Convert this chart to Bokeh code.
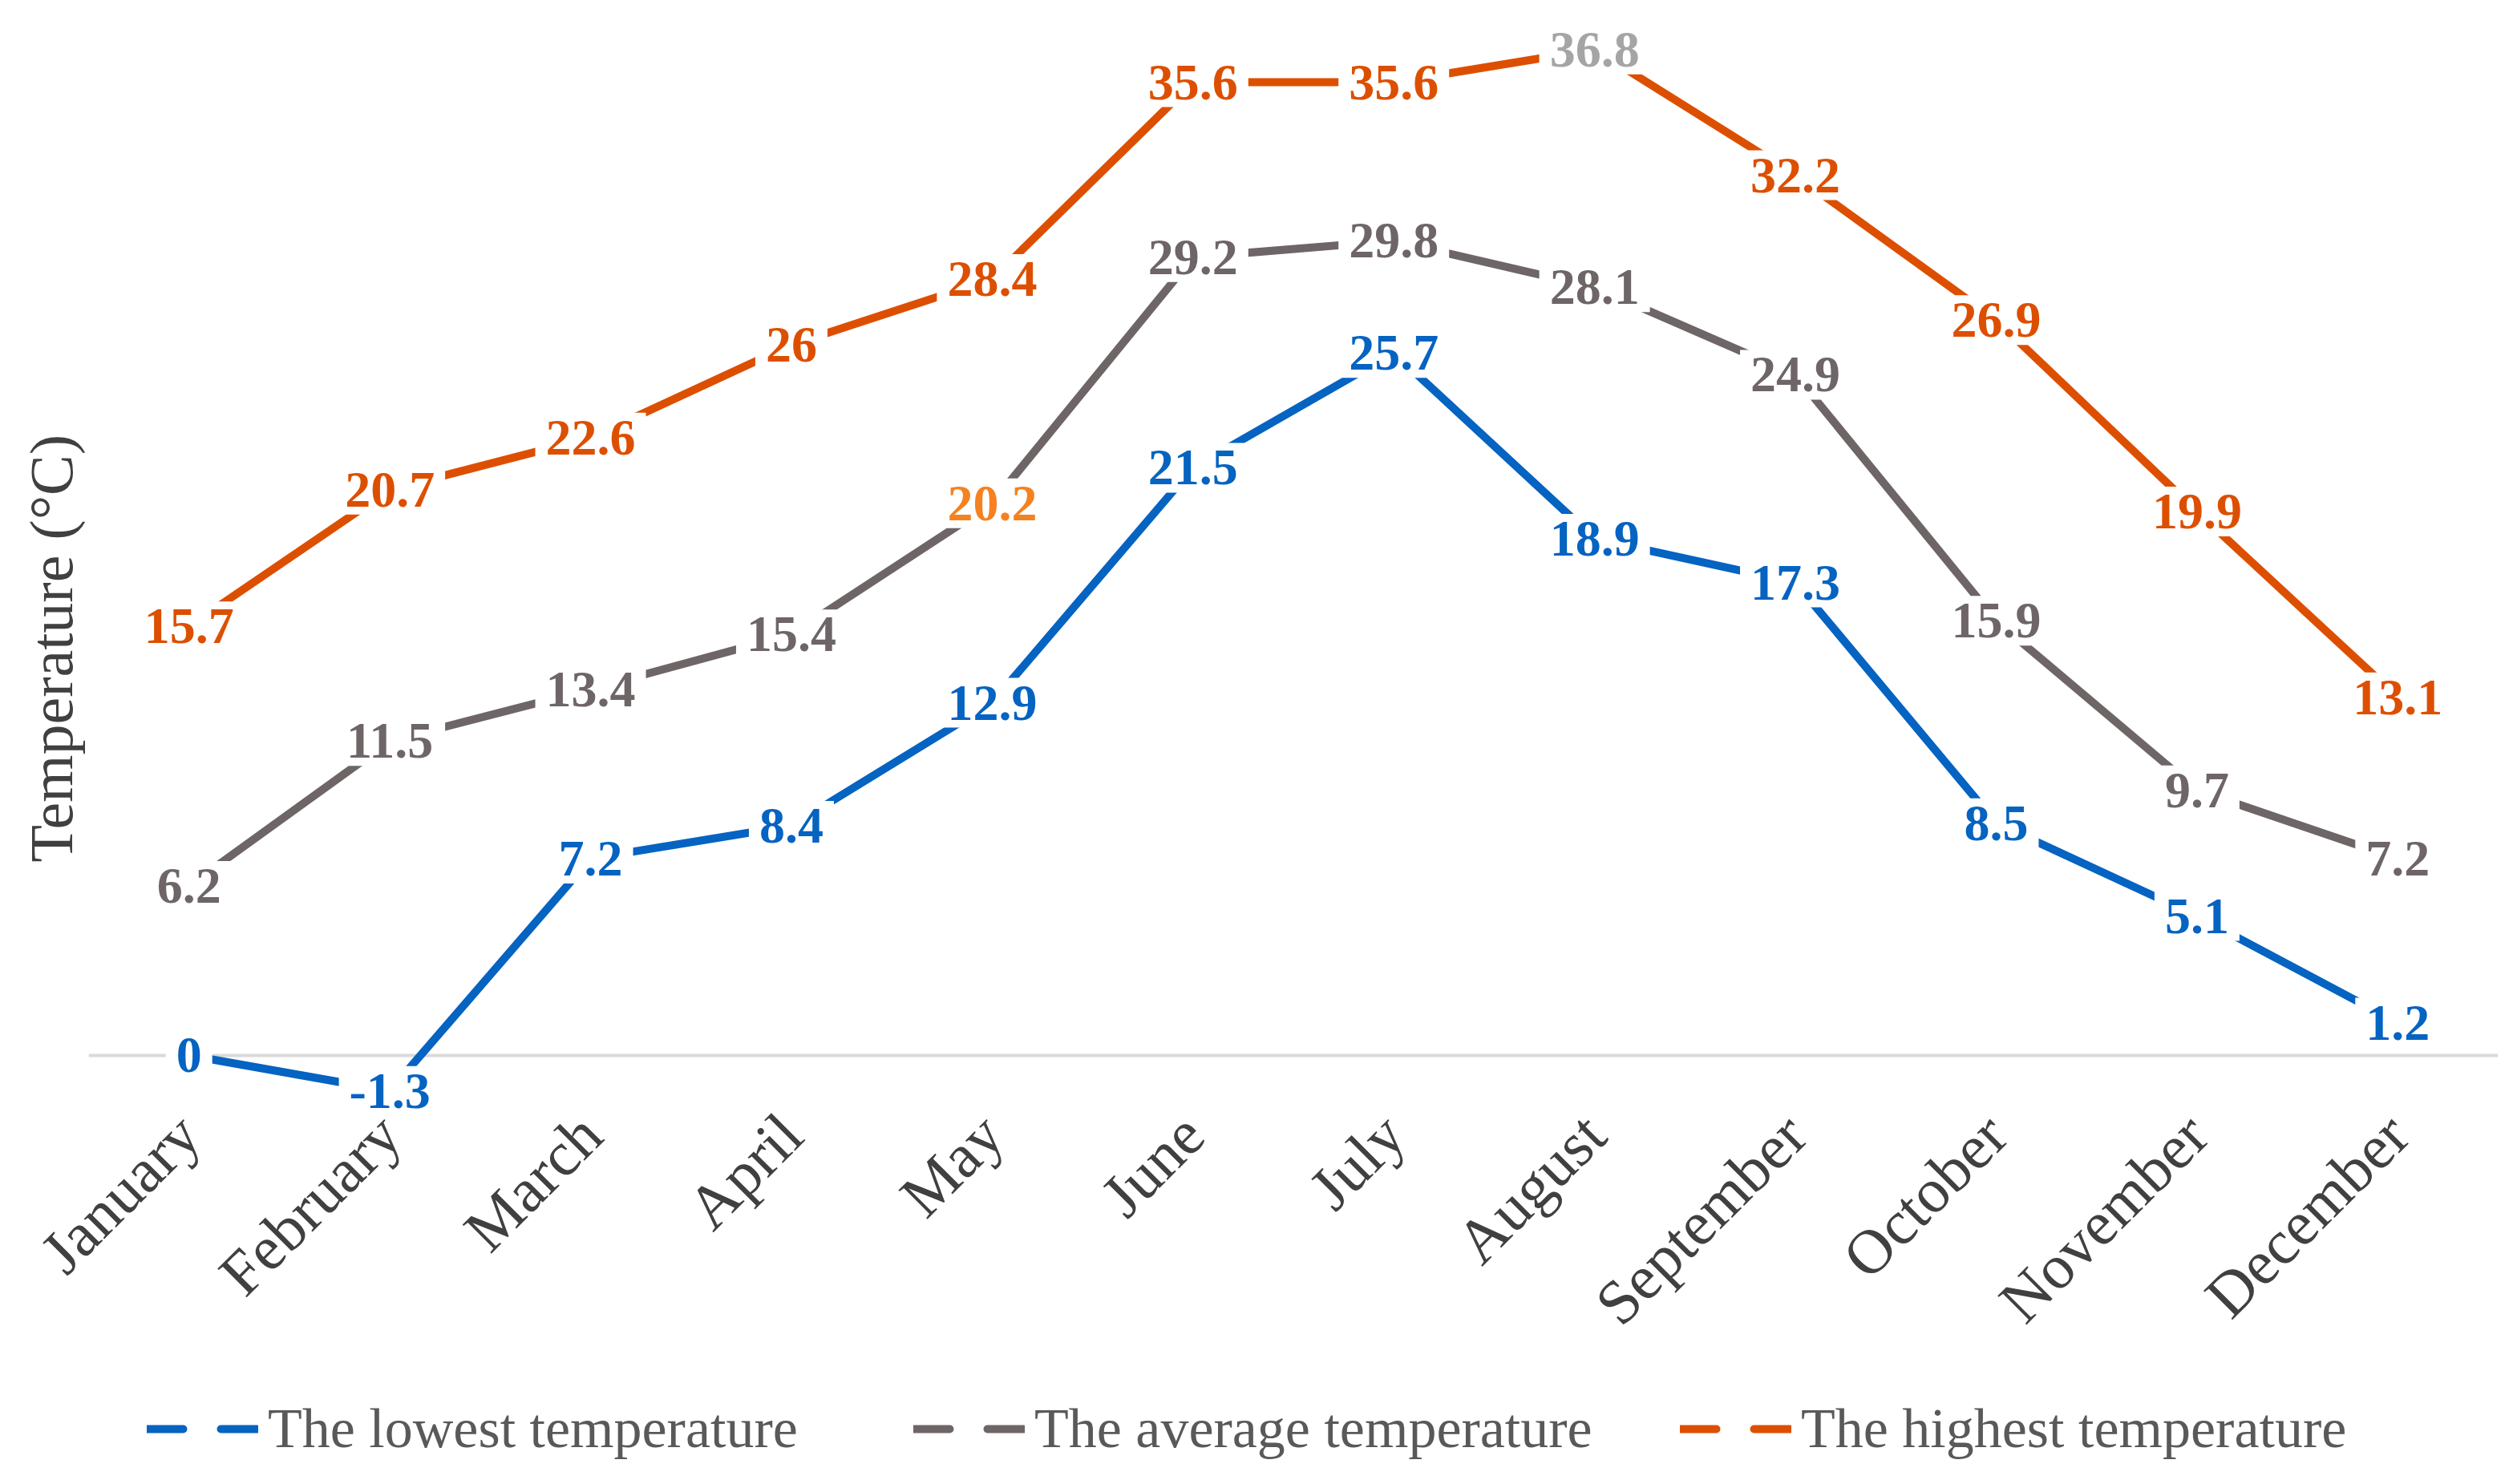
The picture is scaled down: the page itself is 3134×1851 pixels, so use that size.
from math import pi
from bokeh.plotting import figure
from bokeh.layouts import column
from bokeh.models import (ColumnDataSource, LabelSet, Span, Legend,
                          LegendItem, Range1d, FactorRange, Title)
from bokeh.core.properties import value, field
from bokeh.embed import file_html
from bokeh.resources import INLINE

# ---------------- data ----------------
months = ["January", "February", "March", "April", "May", "June", "July",
          "August", "September", "October", "November", "December"]
lowest = [0, -1.3, 7.2, 8.4, 12.9, 21.5, 25.7, 18.9, 17.3, 8.5, 5.1, 1.2]
average = [6.2, 11.5, 13.4, 15.4, 20.2, 29.2, 29.8, 28.1, 24.9, 15.9, 9.7, 7.2]
highest = [15.7, 20.7, 22.6, 26, 28.4, 35.6, 35.6, 36.8, 32.2, 26.9, 19.9, 13.1]
series_names = ["The lowest temperature", "The average temperature",
                "The highest temperature"]
y_title = "Temperature (°C)"

# ---------------- style ----------------
FONT = "Liberation Serif"
line_colors = ["#0563C1", "#6E6567", "#DD4F00"]
label_colors = [
    ["#0563C1"] * 12,
    ["#6E6567"] * 4 + ["#F58220"] + ["#6E6567"] * 7,
    ["#DD4F00"] * 7 + ["#A5A5A5"] + ["#DD4F00"] * 4,
]
CHAR_W = {".": 16, "-": 21}


def box_width(txt):
    return sum(CHAR_W.get(c, 32) for c in txt) + 26


W = 3118
H_MAIN = 1732
H_LEG = 103

p = figure(x_range=FactorRange(factors=months), y_range=Range1d(-2.23, 38.36),
           width=W, height=H_MAIN, output_backend="svg", toolbar_location=None,
           min_border_left=110, min_border_right=3, min_border_top=8,
           min_border_bottom=340)
p.yaxis.visible = False
p.xgrid.visible = False
p.ygrid.visible = False
p.outline_line_color = None
p.background_fill_color = "white"

xa = p.xaxis[0]
xa.axis_line_color = None
xa.major_tick_line_color = None
xa.minor_tick_line_color = None
xa.major_label_orientation = pi / 4
xa.major_label_text_font = FONT
xa.major_label_text_font_size = "78px"
xa.major_label_text_color = "#404040"
xa.major_label_standoff = 4

zero = Span(location=0, dimension="width", line_color="#D9D9D9", line_width=4,
            level="underlay")
p.add_layout(zero)

all_series = [lowest, average, highest]
sources = []
for vals, lc, lcols in zip(all_series, line_colors, label_colors):
    labels_txt = [f"{v:g}" for v in vals]
    src = ColumnDataSource(dict(
        month=months, val=vals, label=labels_txt, color=lcols,
        bw=[box_width(t) for t in labels_txt]))
    sources.append(src)
    p.line(x="month", y="val", source=src, line_color=lc, line_width=10,
           line_join="round")

# white boxes behind the data labels (interrupt the lines like the original)
for src in sources:
    p.rect(x="month", y="val", width="bw", height=62, width_units="screen",
           height_units="screen", source=src, fill_color="white",
           line_color=None)

for src in sources:
    p.add_layout(LabelSet(x="month", y="val", text="label", source=src,
                          text_align="center", text_baseline="middle",
                          text_font=value(FONT), text_font_size=value("64px"),
                          text_font_style="bold", text_color=field("color")))

# y axis title
p.add_layout(Title(text=y_title, align="left", offset=317,
                   text_font=FONT, text_font_size="76px",
                   text_font_style="normal", text_color="#404040"), "left")

# ---------------- legend strip ----------------
pl = figure(width=W, height=H_LEG, output_backend="svg", toolbar_location=None,
            x_range=Range1d(0, 1), y_range=Range1d(0, 1),
            min_border_left=0, min_border_right=0, min_border_top=0,
            min_border_bottom=0)
pl.xaxis.visible = False
pl.yaxis.visible = False
pl.xgrid.visible = False
pl.ygrid.visible = False
pl.outline_line_color = None

items = []
for name, lc in zip(series_names, line_colors):
    # legend proxy: same style, placed outside the strip's visible range
    dsrc = ColumnDataSource(dict(x=[5, 6], y=[5, 6]))
    dummy = pl.line(x="x", y="y", source=dsrc, line_color=lc, line_width=10,
                    line_dash="45 47", line_cap="round")
    items.append(LegendItem(label=name, renderers=[dummy]))
leg = Legend(items=items, location=(73, 13), orientation="horizontal",
             glyph_width=139, glyph_height=80, label_height=80,
             label_standoff=12, label_width=700, spacing=105,
             padding=0, margin=0, border_line_color=None,
             background_fill_alpha=0, label_text_font=FONT,
             label_text_font_size="70px", label_text_color="#595959")
pl.add_layout(leg)

layout = column(p, pl, spacing=0)
open("out.html", "w").write(file_html(layout, INLINE))
